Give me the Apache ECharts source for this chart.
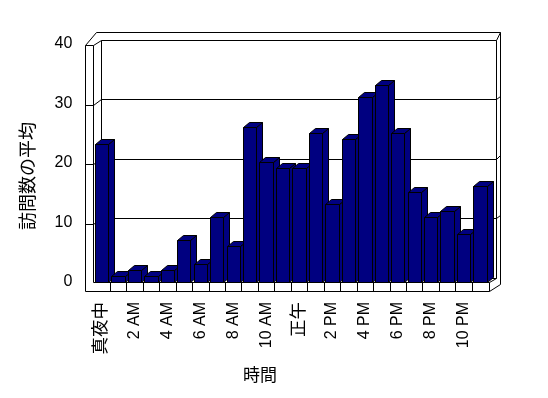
<!DOCTYPE html>
<html>
<head>
<meta charset="utf-8">
<script src="https://cdn.jsdelivr.net/npm/echarts@6/dist/echarts.min.js"></script>
<style>html,body{margin:0;padding:0;background:#fff;}#c{width:548px;height:398px;}</style>
</head>
<body>
<div id="c"></div>
<script>
const hours = ['真夜中','1 AM','2 AM','3 AM','4 AM','5 AM','6 AM','7 AM','8 AM','9 AM','10 AM','11 AM',
  '正午','1 PM','2 PM','3 PM','4 PM','5 PM','6 PM','7 PM','8 PM','9 PM','10 PM','11 PM'];
const visits = [23.2, 1, 2, 1, 2, 7.1, 3, 11, 6, 26, 20.2, 19.1, 19.1, 25, 13.1, 24, 31.1, 33.1, 25, 15.1, 11, 12, 8, 16.1];
const yTicks = [0, 10, 20, 30, 40];
const yTitle = '訪問数の平均';
const xTitle = '時間';

const FONT = '"Liberation Sans", "Noto Sans CJK JP", Arial, sans-serif';
const BDX = 7.5, BDY = -4.5;   // back wall offset
const SDX = 6, SDY = -5;       // bar depth offset
const WALL = 8;                // wall thickness
const FLOOR = 9;               // floor thickness

const chart = echarts.init(document.getElementById('c'), null, {renderer: 'canvas'});

const s = x => Math.round(x) + 0.5;
function line(x1, y1, x2, y2) {
  return {type: 'line', shape: {x1: s(x1), y1: s(y1), x2: s(x2), y2: s(y2)},
    style: {stroke: '#000', lineWidth: 1}, silent: true};
}

function renderWalls(params, api) {
  const band = api.size([1, 0])[0];
  const n = hours.length;
  const xl = api.coord([0, 0])[0] - band / 2;
  const xr = api.coord([n - 1, 0])[0] + band / 2;
  const y0 = api.coord([0, 0])[1];
  const yMax = yTicks[yTicks.length - 1];
  const yb = v => api.coord([0, v])[1] + BDY;
  const yf = v => api.coord([0, v])[1] + 1;
  const bl = xl + BDX, br = xr + BDX;
  const outerTop = yb(yMax) - 7.5;
  const outerRight = br + 4;
  const ch = [];
  ch.push({type: 'polygon', shape: {points: [[xl - WALL, yf(yMax)], [xl - WALL + 11, outerTop], [outerRight, outerTop],
    [outerRight, y0 + FLOOR - 7], [xr + 1, y0 + FLOOR], [xl - WALL, y0 + FLOOR]]}, style: {fill: '#fff'}, silent: true});
  ch.push(line(bl, yb(yMax), br, yb(yMax)));
  ch.push(line(br, yb(yMax), br, yb(0)));
  ch.push(line(bl, yb(yMax), bl, yb(0)));
  ch.push(line(bl, yb(0), br, yb(0)));
  ch.push(line(xl - WALL, yf(yMax), xl - WALL + 11, outerTop));
  ch.push(line(xl - WALL + 11, outerTop, outerRight, outerTop));
  ch.push(line(br, yb(yMax), outerRight, outerTop));
  ch.push(line(outerRight, outerTop, outerRight, y0 + FLOOR - 7));
  ch.push(line(xl - WALL, yf(yMax), xl, yf(yMax)));
  ch.push(line(xl, yf(yMax), bl, yb(yMax)));
  ch.push(line(xl - WALL, yf(yMax), xl - WALL, y0 + FLOOR));
  ch.push(line(xl, yf(yMax), xl, y0));
  yTicks.forEach(v => {
    if (v === 0 || v === yMax) return;
    ch.push(line(xl - WALL, yf(v), xl, yf(v)));
    ch.push(line(xl, yf(v), bl, yb(v)));
    ch.push(line(bl, yb(v), br, yb(v)));
    ch.push(line(br, yb(v), outerRight, yb(v) - 3.5));
  });
  ch.push(line(xl, y0, xr + 1, y0));
  ch.push(line(xl - WALL, y0 + FLOOR, xr + 1, y0 + FLOOR));
  ch.push(line(xr + 1, y0, xr + 1, y0 + FLOOR));
  ch.push(line(xr + 1, y0 + FLOOR, outerRight, y0 + FLOOR - 7));
  ch.push(line(xr + 1, y0, br, yb(0)));
  for (let i = 1; i < n; i++) {
    const x = xl + band * i;
    ch.push(line(x, y0, x, y0 + FLOOR));
  }
  return {type: 'group', children: ch};
}

function renderBar(params, api) {
  const i = api.value(0), v = api.value(1);
  const c = api.coord([i, v]);
  const b = api.coord([i, 0]);
  const bw = api.size([1, 0])[0] * 0.81;
  const x0 = s(c[0] - bw / 2), x1 = s(c[0] + bw / 2);
  const yt = s(c[1]), yB = s(b[1]);
  const st = {fill: '#000080', stroke: '#000', lineWidth: 1};
  return {type: 'group', children: [
    {type: 'polygon', shape: {points: [[x1, yt], [x1 + SDX, yt + SDY], [x1 + SDX, yB + SDY], [x1, yB]]}, style: st},
    {type: 'polygon', shape: {points: [[x0, yt], [x0 + SDX, yt + SDY], [x1 + SDX, yt + SDY], [x1, yt]]}, style: st},
    {type: 'rect', shape: {x: x0, y: yt, width: x1 - x0, height: yB - yt}, style: st}
  ]};
}

const option = {
  backgroundColor: '#fff',
  animation: false,
  grid: {left: 93.3, right: 59.7, top: 44, bottom: 116},
  xAxis: {
    type: 'category', data: hours,
    axisLine: {show: false}, axisTick: {show: false}, splitLine: {show: false},
    axisLabel: {interval: 1, rotate: 90, margin: 20, fontSize: 16, color: '#000', fontFamily: FONT,
      formatter: t => /[\u3000-\u9fff]/.test(t) ? '{j|' + t + '}' : t,
      rich: {j: {fontSize: 17.5, fontFamily: FONT, color: '#000'}}}
  },
  yAxis: {
    type: 'value', min: 0, max: 40, interval: 10,
    axisLine: {show: false}, axisTick: {show: false}, splitLine: {show: false},
    axisLabel: {margin: 21, fontSize: 16, color: '#000', fontFamily: FONT}
  },
  graphic: [
    {type: 'text', x: 29, y: 176, rotation: Math.PI / 2,
      style: {text: yTitle, fontSize: 18, fill: '#000', fontFamily: FONT, textAlign: 'center', textVerticalAlign: 'middle'}},
    {type: 'text', x: 260, y: 376,
      style: {text: xTitle, fontSize: 17, fill: '#000', fontFamily: FONT, textAlign: 'center', textVerticalAlign: 'middle'}}
  ],
  series: [
    {type: 'custom', renderItem: renderWalls, data: [[0, 0]], z: 1, silent: true, clip: false},
    {type: 'custom', renderItem: renderBar, data: visits.map((v, i) => [i, v]), z: 2, clip: false,
      encode: {x: 0, y: 1}}
  ]
};
chart.setOption(option);
</script>
</body>
</html>
